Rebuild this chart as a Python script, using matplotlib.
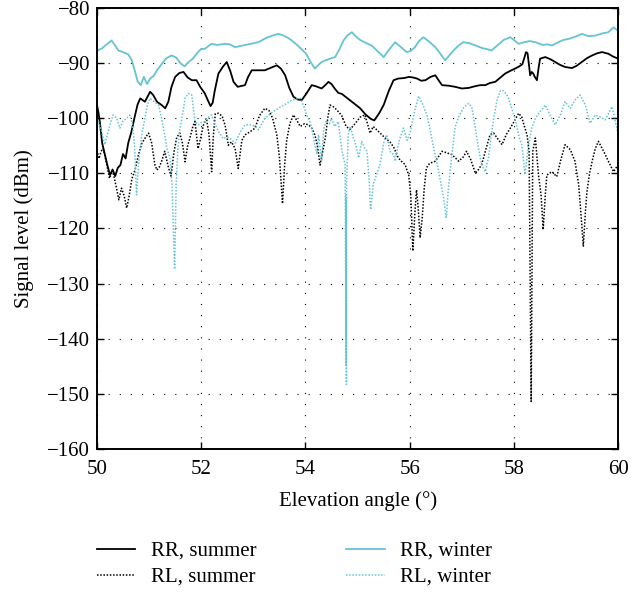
import matplotlib.pyplot as plt
import numpy as np

plt.rcParams['font.family'] = ['Liberation Serif', 'DejaVu Serif']
plt.rcParams['mathtext.fontset'] = 'stix'

# RR, winter (co-polar, upper cyan)
rrw_x = [50.00, 50.10, 50.20, 50.28, 50.35, 50.41, 50.50, 50.60, 50.67, 50.73,
         50.78, 50.84, 50.90, 50.96, 51.02, 51.08, 51.16, 51.24, 51.32, 51.43,
         51.52, 51.60, 51.68, 51.76, 51.84, 51.92, 51.99, 52.07, 52.14, 52.20,
         52.30, 52.46, 52.55, 52.65, 52.80, 52.95, 53.10, 53.25, 53.40, 53.48,
         53.58, 53.66, 53.74, 53.85, 53.95, 54.02, 54.10, 54.18, 54.25, 54.31,
         54.38, 54.47, 54.57, 54.65, 54.73, 54.80, 54.89, 54.97, 55.05, 55.15,
         55.27, 55.38, 55.50, 55.60, 55.72, 55.82, 55.94, 56.02, 56.10, 56.18,
         56.26, 56.36, 56.49, 56.58, 56.68, 56.76, 56.84, 56.94, 57.03, 57.15,
         57.26, 57.40, 57.50, 57.57, 57.68, 57.80, 57.93, 58.01, 58.09, 58.20,
         58.30, 58.41, 58.55, 58.65, 58.73, 58.85, 58.95, 59.05, 59.18, 59.30,
         59.43, 59.56, 59.70, 59.81, 59.91, 60.00]
rrw_y = [-87.8, -87.3, -86.5, -85.9, -86.8, -87.7, -88.0, -88.4, -89.5, -91.5,
         -93.3, -94.0, -92.5, -93.8, -92.8, -92.4, -91.2, -90.2, -89.2, -88.6,
         -89.0, -90.0, -90.6, -89.8, -89.2, -88.2, -87.5, -87.4, -86.9, -86.5,
         -86.7, -86.5, -86.6, -87.1, -86.8, -86.5, -86.2, -85.4, -84.9, -84.7,
         -85.0, -85.4, -85.9, -86.8, -87.7, -88.4, -89.8, -91.0, -90.3, -89.8,
         -89.5, -89.2, -88.9, -87.5, -85.9, -85.0, -84.4, -85.2, -85.8, -86.3,
         -86.8, -87.8, -88.9, -87.6, -86.2, -87.0, -88.0, -87.8, -87.1, -86.0,
         -85.3, -86.0, -87.1, -88.2, -89.5, -88.6, -87.7, -86.8, -86.2, -86.4,
         -86.8, -87.3, -87.5, -87.7, -86.8, -85.8, -85.3, -85.9, -86.5, -86.2,
         -86.0, -86.2, -86.7, -86.6, -86.8, -86.2, -85.8, -85.6, -85.2, -84.7,
         -85.1, -85.0, -84.6, -84.4, -83.5, -84.2]

# RR, summer (co-polar, upper black)
rrs_x = [50.00, 50.03, 50.06, 50.10, 50.15, 50.20, 50.25, 50.30, 50.35, 50.40,
         50.45, 50.50, 50.55, 50.60, 50.66, 50.73, 50.78, 50.83, 50.92, 51.02,
         51.08, 51.15, 51.24, 51.31, 51.37, 51.43, 51.50, 51.58, 51.66, 51.74,
         51.82, 51.91, 51.98, 52.07, 52.13, 52.18, 52.22, 52.26, 52.33, 52.42,
         52.49, 52.56, 52.62, 52.70, 52.84, 52.90, 52.97, 53.10, 53.22, 53.35,
         53.45, 53.53, 53.61, 53.69, 53.77, 53.85, 53.93, 54.02, 54.12, 54.20,
         54.31, 54.38, 54.44, 54.50, 54.56, 54.63, 54.70, 54.78, 54.86, 54.95,
         55.05, 55.15, 55.25, 55.32, 55.42, 55.50, 55.60, 55.69, 55.78, 55.90,
         55.98, 56.06, 56.14, 56.22, 56.30, 56.40, 56.49, 56.56, 56.62, 56.75,
         56.87, 57.00, 57.13, 57.25, 57.35, 57.45, 57.54, 57.64, 57.74, 57.83,
         57.93, 58.02, 58.10, 58.16, 58.20, 58.23, 58.26, 58.29, 58.31, 58.34,
         58.37, 58.40, 58.44, 58.47, 58.50, 58.60, 58.70, 58.79, 58.88, 58.98,
         59.11, 59.20, 59.30, 59.40, 59.50, 59.60, 59.69, 59.81, 59.90, 60.00]
rrs_y = [-97.6, -99.0, -101.0, -104.5, -106.5, -108.5, -110.3, -109.3, -110.5, -109.0,
         -108.5, -106.5, -107.3, -104.5, -102.5, -99.5, -97.5, -96.4, -97.0, -95.2,
         -95.8, -97.0, -97.6, -98.2, -97.0, -94.3, -92.5, -91.8, -91.6, -92.6,
         -93.1, -93.1, -94.3, -95.5, -96.8, -97.8, -97.2, -95.0, -91.9, -90.6,
         -89.8, -91.5, -93.4, -94.3, -94.0, -92.5, -91.3, -91.3, -91.3, -90.8,
         -90.4, -91.0, -92.2, -94.5, -96.1, -96.6, -96.7, -95.5, -94.0, -94.2,
         -94.6, -94.0, -93.4, -93.8, -94.6, -95.4, -95.6, -96.2, -96.8, -97.5,
         -98.2, -99.3, -100.1, -100.4, -99.0, -97.6, -95.0, -93.1, -92.8, -92.7,
         -92.5, -92.6, -92.8, -93.2, -93.1, -92.5, -92.2, -93.2, -94.0, -94.1,
         -94.3, -94.6, -94.5, -94.2, -94.0, -94.0, -93.6, -93.4, -92.6, -91.9,
         -91.4, -91.0, -90.6, -90.2, -89.0, -88.0, -88.2, -90.5, -92.2, -91.6,
         -91.9, -92.5, -93.1, -91.0, -89.2, -88.9, -89.3, -89.8, -90.3, -90.7,
         -90.9, -90.5, -89.8, -89.1, -88.6, -88.2, -88.0, -88.3, -88.8, -89.2]

# RL, summer (cross-polar, lower black)
rls_x = [50.00, 50.04, 50.08, 50.12, 50.18, 50.24, 50.30, 50.36, 50.42, 50.47,
         50.52, 50.57, 50.62, 50.67, 50.73, 50.80, 50.86, 50.93, 50.99, 51.05,
         51.11, 51.15, 51.20, 51.24, 51.30, 51.36, 51.42, 51.48, 51.53, 51.59,
         51.64, 51.69, 51.74, 51.78, 51.84, 51.88, 51.94, 51.98, 52.04, 52.10,
         52.15, 52.20, 52.23, 52.27, 52.33, 52.40, 52.46, 52.52, 52.58, 52.65,
         52.71, 52.78, 52.84, 52.93, 53.03, 53.12, 53.22, 53.30, 53.37, 53.45,
         53.50, 53.56, 53.60, 53.64, 53.70, 53.77, 53.84, 53.90, 53.98, 54.06,
         54.12, 54.18, 54.23, 54.28, 54.33, 54.38, 54.43, 54.47, 54.55, 54.63,
         54.70, 54.78, 54.86, 54.95, 55.05, 55.14, 55.19, 55.24, 55.30, 55.40,
         55.53, 55.62, 55.69, 55.78, 55.86, 55.91, 55.98, 56.02, 56.06, 56.10,
         56.13, 56.16, 56.20, 56.24, 56.28, 56.32, 56.38, 56.49, 56.55, 56.62,
         56.72, 56.81, 56.94, 57.03, 57.09, 57.17, 57.26, 57.32, 57.38, 57.45,
         57.54, 57.61, 57.70, 57.77, 57.85, 57.93, 58.02, 58.09, 58.15, 58.20,
         58.25, 58.29, 58.33, 58.36, 58.41, 58.47, 58.52, 58.56, 58.60, 58.63,
         58.73, 58.82, 58.90, 58.98, 59.08, 59.17, 59.24, 59.29, 59.33, 59.37,
         59.40, 59.45, 59.50, 59.56, 59.62, 59.72, 59.81, 59.91, 60.00]
rls_y = [-105.8, -107.3, -106.0, -105.5, -108.0, -110.9, -109.5, -112.0, -114.8, -112.7,
         -114.0, -116.3, -114.0, -111.0, -109.4, -106.5, -104.6, -103.5, -102.7, -104.5,
         -108.4, -109.4, -108.8, -107.8, -106.0, -108.5, -110.5, -106.0, -103.5, -102.7,
         -104.5, -107.9, -105.0, -103.7, -101.5, -100.6, -105.5, -104.0, -101.3, -100.0,
         -103.0, -109.7, -103.5, -99.2, -99.1, -99.6, -101.3, -104.9, -104.3, -105.5,
         -109.1, -104.0, -103.0, -102.5, -101.8, -99.5, -98.2, -98.6, -100.0, -103.0,
         -107.0, -115.5, -108.5, -104.0, -101.0, -99.4, -100.5, -101.5, -101.0, -101.2,
         -101.8, -103.0, -105.0, -108.5, -106.0, -103.6, -99.8, -97.6, -98.0, -98.8,
         -99.6, -101.5, -102.0, -101.0, -99.8, -99.4, -101.0, -102.7, -101.5, -102.4,
         -103.6, -104.3, -105.2, -107.2, -108.0, -108.4, -110.3, -114.0, -124.1, -117.0,
         -113.0, -116.0, -121.7, -118.0, -112.5, -109.0, -108.2, -107.8, -107.0, -106.0,
         -106.3, -106.6, -107.8, -107.0, -106.0, -107.5, -110.0, -109.3, -108.4, -106.0,
         -103.0, -102.7, -103.9, -104.8, -103.0, -101.8, -100.3, -99.1, -99.8, -101.5,
         -103.0, -106.0, -151.4, -106.0, -103.6, -110.3, -114.0, -120.2, -114.0, -110.3,
         -109.7, -110.6, -107.5, -104.8, -105.7, -107.8, -112.0, -118.0, -123.2, -117.0,
         -113.3, -110.0, -107.8, -105.5, -104.2, -106.0, -107.8, -109.7, -108.4]

# RL, winter (cross-polar, lower cyan)
rlw_x = [50.00, 50.03, 50.09, 50.15, 50.20, 50.25, 50.31, 50.38, 50.44, 50.50,
         50.57, 50.63, 50.68, 50.72, 50.76, 50.80, 50.86, 50.92, 50.97, 51.02,
         51.10, 51.18, 51.24, 51.30, 51.34, 51.40, 51.44, 51.49, 51.52, 51.55,
         51.59, 51.64, 51.69, 51.75, 51.82, 51.88, 51.94, 52.00, 52.07, 52.14,
         52.20, 52.26, 52.33, 52.42, 52.50, 52.57, 52.65, 52.74, 52.84, 52.97,
         53.05, 53.10, 53.22, 53.35, 53.48, 53.61, 53.74, 53.83, 53.90, 53.96,
         54.02, 54.08, 54.12, 54.18, 54.22, 54.25, 54.31, 54.35, 54.40, 54.46,
         54.50, 54.56, 54.63, 54.70, 54.76, 54.776, 54.779, 54.781, 54.783, 54.785,
         54.788, 54.82, 54.86, 54.92, 54.95, 55.02, 55.08, 55.14, 55.18, 55.22,
         55.25, 55.30, 55.34, 55.43, 55.50, 55.56, 55.62, 55.69, 55.72, 55.80,
         55.88, 55.95, 56.01, 56.10, 56.17, 56.25, 56.33, 56.40, 56.46, 56.52,
         56.58, 56.65, 56.70, 56.74, 56.80, 56.87, 56.95, 57.04, 57.13, 57.19,
         57.25, 57.32, 57.38, 57.45, 57.51, 57.56, 57.61, 57.68, 57.74, 57.80,
         57.88, 57.95, 58.02, 58.10, 58.15, 58.21, 58.28, 58.34, 58.41, 58.50,
         58.60, 58.69, 58.79, 58.89, 58.98, 59.08, 59.17, 59.27, 59.37, 59.46,
         59.56, 59.66, 59.75, 59.88, 60.00]
rlw_y = [-101.8, -100.6, -102.4, -104.8, -103.0, -101.2, -99.4, -100.0, -101.8, -100.5,
         -100.0, -99.4, -101.0, -105.0, -113.9, -108.0, -103.0, -100.0, -97.5, -96.4,
         -97.0, -97.6, -100.0, -103.0, -105.4, -107.2, -112.0, -127.4, -112.0, -106.0,
         -102.0, -99.5, -96.4, -95.5, -95.8, -100.6, -101.2, -100.8, -100.6, -99.8,
         -99.4, -101.0, -102.4, -103.7, -103.4, -103.8, -104.5, -102.7, -101.2, -101.2,
         -101.6, -102.1, -100.0, -99.0, -98.2, -97.5, -96.7, -96.5, -96.4, -97.6,
         -99.4, -100.5, -101.8, -104.8, -106.5, -103.0, -107.8, -102.0, -100.4, -101.0,
         -100.0, -101.5, -100.6, -106.0, -108.4, -140.0, -115.0, -145.0, -114.0, -148.3,
         -112.0, -103.0, -101.5, -103.6, -104.2, -107.2, -104.2, -105.5, -106.0, -111.0,
         -116.6, -112.0, -110.9, -108.4, -104.5, -103.0, -106.0, -106.6, -107.8, -104.0,
         -101.8, -104.0, -102.5, -98.5, -96.0, -97.5, -99.4, -102.5, -105.5, -108.0,
         -110.9, -114.5, -118.0, -113.0, -107.3, -101.6, -99.5, -98.0, -97.3, -98.0,
         -101.3, -105.5, -108.5, -109.7, -107.2, -103.5, -100.0, -96.5, -95.0, -95.0,
         -96.0, -98.0, -100.0, -103.5, -104.8, -110.2, -104.8, -101.8, -100.0, -98.8,
         -97.6, -99.4, -101.2, -99.4, -97.0, -98.2, -96.7, -95.8, -97.6, -100.9,
         -99.4, -99.8, -100.3, -97.9, -103.0]

x_ticks = [50, 52, 54, 56, 58, 60]
y_ticks = [-160, -150, -140, -130, -120, -110, -100, -90, -80]

cyan = "#64C4D4"
dots = (0, (1, 1.1))

fig = plt.figure(figsize=(6.42, 5.93), dpi=100)
ax = fig.add_axes([0.151, 0.243, 0.812, 0.7435])

ax.plot(rrs_x, rrs_y, color="black", lw=1.3, label="RR, summer")
ax.plot(rls_x, rls_y, color="black", lw=1.1, linestyle=dots, label="RL, summer")
ax.plot(rrw_x, rrw_y, color=cyan, lw=1.3, label="RR, winter")
ax.plot(rlw_x, rlw_y, color=cyan, lw=1.1, linestyle=dots, label="RL, winter")

ax.set_xlim(50, 60)
ax.set_ylim(-160, -80)
ax.set_xticks(x_ticks)
ax.set_yticks(y_ticks)
ax.grid(True, color="black", lw=0.8, linestyle=(0, (1, 9)))
ax.tick_params(direction="in", top=True, right=True, length=5, width=1,
               labelsize=15)
ax.tick_params(axis="x", pad=8)
ax.tick_params(axis="y", pad=5)
for sp in ax.spines.values():
    sp.set_linewidth(1.4)

ax.set_xlabel("Elevation angle (°)", fontsize=15, labelpad=9)
ax.set_ylabel("Signal level (dBm)", fontsize=15, labelpad=9)

fig.legend(loc="upper left", bbox_to_anchor=(0.151, 0.087), ncol=2,
           frameon=False, fontsize=15, handlelength=1.85, handletextpad=0.75,
           columnspacing=4.3, labelspacing=0.3, borderpad=0, borderaxespad=0)

fig.savefig("out.png", dpi=100)
